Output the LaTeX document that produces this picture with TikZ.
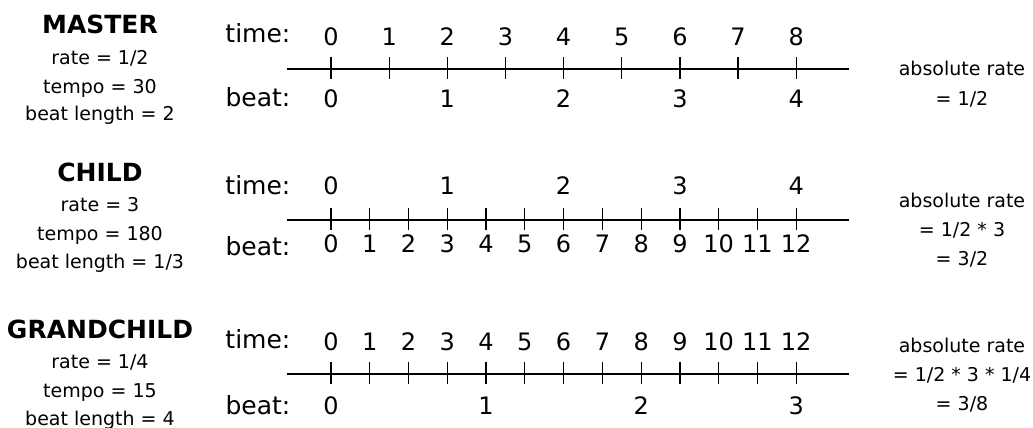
\documentclass[tikz,border=0pt]{standalone}
\usepackage{fontspec}
\setmainfont{DejaVu Sans}

\tikzset{
  ttl/.style={anchor=base,inner sep=0pt,font=\fontsize{25}{30}\selectfont\bfseries},
  info/.style={anchor=base,inner sep=0pt,font=\fontsize{19}{23}\selectfont},
  rowlbl/.style={anchor=base east,inner sep=0pt,font=\fontsize{25}{30}\selectfont},
  num/.style={anchor=center,inner sep=0pt,font=\fontsize{24}{29}\selectfont},
}

\begin{document}
\begin{tikzpicture}[x=1pt,y=-1pt,line width=1.2pt]
\path[use as bounding box] (0,0) rectangle (1033,428);
% master
\node[ttl] (mtitle) at (100,33.2) {MASTER};
\node[info] (mrate) at (100,64.3) {rate = 1/2};
\node[info] (mtempo) at (100,93) {tempo = 30};
\node[info] (mlen) at (100,120.3) {beat length = 2};
\node[rowlbl] (mtime) at (291,42.7) {time:};
\node[rowlbl] (mbeat) at (291,106) {beat:};
\coordinate (mstart) at (287.3,69);
\coordinate (mend) at (849.3,69);
\draw (mstart) -- (mend);
\foreach \i in {0,...,8} \draw (331+\i*58.15,57) -- ++(0,22);
\foreach \i in {0,...,8} \node[num] (mt\i) at (331+\i*58.15,37) {\i};
\foreach \i in {0,...,4} \node[num] (mb\i) at (331+\i*116.3,98.3) {\i};
\node[info] (mabs) at (962,76) {absolute rate};
\node[info] (mabs2) at (962,105) {= 1/2};
% child
\node[ttl] (ctitle) at (100,181.4) {CHILD};
\node[info] (crate) at (100,211.3) {rate = 3};
\node[info] (ctempo) at (100,240.3) {tempo = 180};
\node[info] (clen) at (100,268.7) {beat length = 1/3};
\node[rowlbl] (ctime) at (291,194.5) {time:};
\node[rowlbl] (cbeat) at (291,255.5) {beat:};
\coordinate (cstart) at (287.3,220);
\coordinate (cend) at (849.3,220);
\draw (cstart) -- (cend);
\foreach \i in {0,...,12} \draw (331+\i*38.77,208) -- ++(0,22);
\foreach \i in {0,...,4} \node[num] (ct\i) at (331+\i*116.3,186) {\i};
\foreach \i in {0,...,12} \node[num] (cb\i) at (331+\i*38.77,244) {\i};
\node[info] (cabs) at (962,207) {absolute rate};
\node[info] (cabs2) at (962,236) {= 1/2 * 3};
\node[info] (cabs3) at (962,265) {= 3/2};
% grandchild
\node[ttl] (gtitle) at (100,338) {GRANDCHILD};
\node[info] (grate) at (100,368.7) {rate = 1/4};
\node[info] (gtempo) at (100,397) {tempo = 15};
\node[info] (glen) at (100,425.3) {beat length = 4};
\node[rowlbl] (gtime) at (291,348) {time:};
\node[rowlbl] (gbeat) at (291,414) {beat:};
\coordinate (gstart) at (287.3,374);
\coordinate (gend) at (849.3,374);
\draw (gstart) -- (gend);
\foreach \i in {0,...,12} \draw (331+\i*38.77,362) -- ++(0,22);
\foreach \i in {0,...,12} \node[num] (gt\i) at (331+\i*38.77,341.7) {\i};
\foreach \i in {0,...,3} \node[num] (gb\i) at (331+\i*155.07,406) {\i};
\node[info] (gabs) at (962,352) {absolute rate};
\node[info] (gabs2) at (962,381) {= 1/2 * 3 * 1/4};
\node[info] (gabs3) at (962,410) {= 3/8};
\end{tikzpicture}
\end{document}
